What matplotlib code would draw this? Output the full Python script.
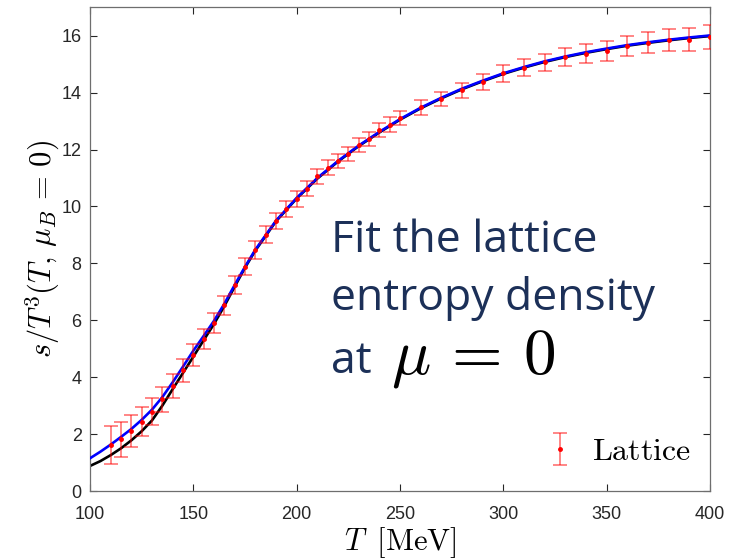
import matplotlib
matplotlib.use('Agg')
import matplotlib.pyplot as plt

plt.rcParams['mathtext.fontset'] = 'cm'
plt.rcParams['font.family'] = ['Liberation Sans', 'DejaVu Sans']

# lattice points (T in MeV, s/T^3, error)
T_lat = [110, 115, 120, 125, 130, 135, 140, 145, 150, 155, 160, 165, 170, 175,
         180, 185, 190, 195, 200, 205, 210, 215, 220, 225, 230, 235, 240, 245,
         250, 260, 270, 280, 290, 300, 310, 320, 330, 340, 350, 360, 370, 380,
         390, 400]
s_lat = [1.62, 1.82, 2.11, 2.44, 2.79, 3.22, 3.70, 4.24, 4.79, 5.34, 5.90, 6.53,
         7.23, 7.88, 8.47, 9.01, 9.49, 9.90, 10.27, 10.63, 11.06, 11.36, 11.59,
         11.85, 12.17, 12.36, 12.68, 12.88, 13.11, 13.48, 13.78, 14.08, 14.39,
         14.68, 14.87, 15.06, 15.24, 15.37, 15.47, 15.64, 15.75, 15.85, 15.86, 15.96]
err_lat = [0.68, 0.61, 0.55, 0.50, 0.47, 0.44, 0.42, 0.40, 0.38, 0.36, 0.35, 0.34,
           0.32, 0.30, 0.30, 0.29, 0.28, 0.28, 0.28, 0.27, 0.27, 0.26, 0.25, 0.25,
           0.25, 0.25, 0.25, 0.25, 0.25, 0.26, 0.26, 0.27, 0.28, 0.29, 0.30, 0.31,
           0.32, 0.33, 0.34, 0.36, 0.37, 0.38, 0.40, 0.41]

# fit curves
T_fit = [100, 105, 110, 115, 120, 125, 130, 135, 140, 145, 150, 155, 160, 165,
         170, 175, 180, 190, 200, 210, 220, 230, 240, 250, 260, 270, 280, 290,
         300, 310, 320, 330, 340, 350, 360, 370, 380, 390, 400]
s_black = [0.88, 1.05, 1.26, 1.50, 1.78, 2.10, 2.48, 3.00, 3.58, 4.15, 4.72, 5.30,
           5.87, 6.50, 7.18, 7.85, 8.45, 9.48, 10.28, 10.98, 11.58, 12.12, 12.60,
           13.05, 13.45, 13.80, 14.12, 14.40, 14.66, 14.88, 15.08, 15.25, 15.40,
           15.53, 15.65, 15.75, 15.84, 15.92, 15.99]
s_blue = [1.15, 1.38, 1.63, 1.90, 2.18, 2.50, 2.86, 3.30, 3.82, 4.37, 4.93, 5.45,
          5.98, 6.58, 7.24, 7.88, 8.48, 9.50, 10.30, 11.00, 11.60, 12.14, 12.62,
          13.07, 13.47, 13.82, 14.14, 14.42, 14.68, 14.90, 15.10, 15.27, 15.42,
          15.55, 15.67, 15.77, 15.86, 15.94, 16.01]

fig = plt.figure(figsize=(7.37, 5.6), dpi=100)
ax = fig.add_axes([90/737, 1 - 491/560, 620/737, (491 - 7.3)/560])

ax.plot(T_fit, s_black, color='black', lw=1.9, zorder=2)
ax.plot(T_fit, s_blue, color='#0000ff', lw=1.9, zorder=3)
ax.errorbar(T_lat, s_lat, yerr=err_lat, fmt='o', ms=2.5, color='red',
            ecolor=(1, 0, 0, 0.6), elinewidth=1.1, capsize=5, capthick=1.1,
            label=r'$\mathrm{Lattice}$', zorder=4)

ax.set_xlim(100, 400)
ax.set_ylim(0, 17)
ax.set_xticks([100, 150, 200, 250, 300, 350, 400])
ax.set_yticks([0, 2, 4, 6, 8, 10, 12, 14, 16])
ax.tick_params(direction='in', length=5, width=0.8, labelsize=13,
               top=True, right=True, colors='#262626', pad=6)
ax.tick_params(axis='x', pad=11)
for sp in ax.spines.values():
    sp.set_color('#6e6e6e')
    sp.set_linewidth(0.9)

ax.set_xlabel(r'$T\;\;[\mathrm{MeV}]$', fontsize=22, labelpad=1)
ax.set_ylabel(r'$s/T^3(T,\,\mu_B\,=\,0)$', fontsize=22, labelpad=0)

ax.legend(loc='lower right', frameon=False, fontsize=23, handlelength=1.0,
          handletextpad=0.5, bbox_to_anchor=(1.015, -0.01))

navy = '#1c3058'
txt_font = ['Open Sans', 'DejaVu Sans']
fig.text(331/737, 1 - 251.7/560, 'Fit the lattice', fontsize=32, color=navy,
         family=txt_font, va='baseline')
fig.text(331/737, 1 - 310/560, 'entropy density', fontsize=32, color=navy,
         family=txt_font, va='baseline')
fig.text(331/737, 1 - 373/560, 'at', fontsize=32, color=navy,
         family=txt_font, va='baseline')
fig.text(391/737, 1 - 373/560, r'$\mu\,=\,0$', fontsize=47, color='black',
         va='baseline')

fig.savefig('out.png', dpi=100)
